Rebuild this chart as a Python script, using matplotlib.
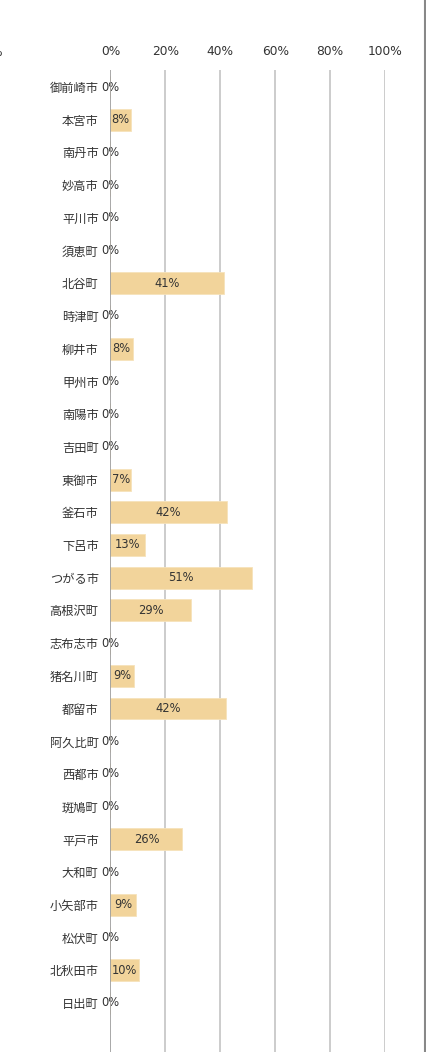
import matplotlib.pyplot as plt
from matplotlib.lines import Line2D

plt.rcParams['font.family'] = ['DejaVu Sans', 'Noto Sans CJK JP']

# data
cities = ['御前崎市', '本宮市', '南丹市', '妙高市', '平川市', '須恵町', '北谷町', '時津町',
          '柳井市', '甲州市', '南陽市', '吉田町', '東御市', '釜石市', '下呂市', 'つがる市',
          '高根沢町', '志布志市', '猪名川町', '都留市', '阿久比町', '西都市', '斑鳩町', '平戸市',
          '大和町', '小矢部市', '松伏町', '北秋田市', '日出町']
shares = [0, 7.5, 0, 0, 0, 0, 41.3, 0, 8.2, 0, 0, 0, 7.4, 42.3, 12.6, 51.4,
          29.3, 0, 8.7, 42.0, 0, 0, 0, 26.2, 0, 9.3, 0, 10.4, 0]
labels = ['0%', '8%', '0%', '0%', '0%', '0%', '41%', '0%', '8%', '0%', '0%', '0%', '7%',
          '42%', '13%', '51%', '29%', '0%', '9%', '42%', '0%', '0%', '0%', '26%', '0%',
          '9%', '0%', '10%', '0%']
ticks = [0, 20, 40, 60, 80, 100]
tick_labels = ['0%', '20%', '40%', '60%', '80%', '100%']

W, H = 427, 1052
fig = plt.figure(figsize=(W / 100, H / 100), dpi=100)
ax = fig.add_axes([110.5 / W, 0, (385 - 110.5) / W, 1 - 70 / H])

y = list(range(len(cities)))
ax.barh(y, shares, height=0.67, color='#f2d49b', edgecolor='#f6e2bb', linewidth=0.6, zorder=2)
for yi, v, lab in zip(y, shares, labels):
    ax.text(v / 2, yi, lab, ha='center', va='center', fontsize=8.3, color='#333333', zorder=3)

ax.set_xlim(0, 100)
ax.set_ylim(len(cities) - 1 + 1.5, -0.52)
ax.set_xticks(ticks)
ax.set_xticklabels(tick_labels, fontsize=8.8, color='#333333')
ax.xaxis.tick_top()
ax.set_yticks(y)
ax.set_yticklabels(cities, fontsize=8.8, color='#333333', family=['Noto Sans CJK JP', 'DejaVu Sans'])
ax.tick_params(length=0)
ax.tick_params(axis='y', pad=8.5)
ax.tick_params(axis='x', pad=8.5)

for t in ticks[1:]:
    ax.axvline(t, color='#cccccc', linewidth=1.4, zorder=1)
ax.axvline(0, color='#999999', linewidth=1.2, zorder=4)
for s in ax.spines.values():
    s.set_visible(False)

# right border and cut-off label at the left edge
fig.add_artist(Line2D([425 / W, 425 / W], [0, 1], color='#888888', linewidth=1.5))
fig.text(2 / W, 1 - 52 / H, '%', ha='right', va='center', fontsize=8.8, color='#333333')

fig.savefig('out.png', dpi=100)
